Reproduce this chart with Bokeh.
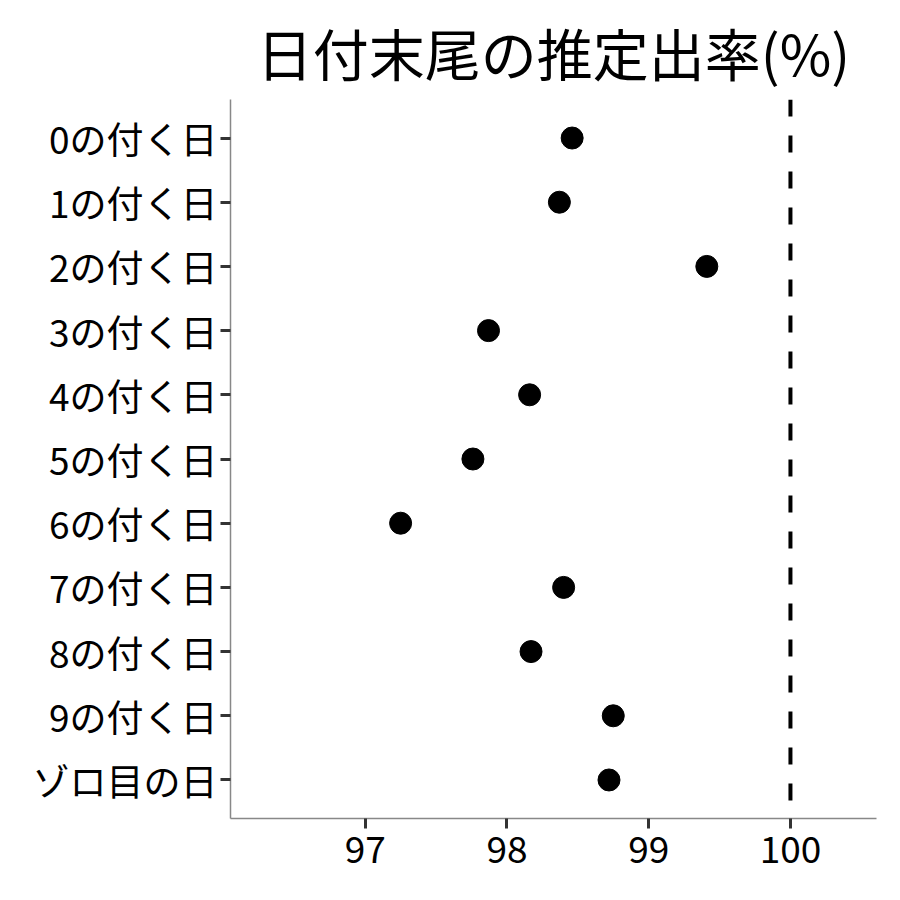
from bokeh.plotting import figure
from bokeh.models import FactorRange, Range1d, FixedTicker, Span
from bokeh.embed import file_html
from bokeh.resources import INLINE

categories = ["0の付く日", "1の付く日", "2の付く日", "3の付く日", "4の付く日",
              "5の付く日", "6の付く日", "7の付く日", "8の付く日", "9の付く日", "ゾロ目の日"]
rates = [98.46, 98.37, 99.41, 97.87, 98.16, 97.76, 97.25, 98.40, 98.17, 98.75, 98.72]
x_ticks = [97, 98, 99, 100]
ref_value = 100
title_text = "日付末尾の推定出率(%)"

FONT = "Noto Sans CJK JP"

p = figure(width=884, height=884, output_backend="svg", toolbar_location=None,
           y_range=FactorRange(factors=list(reversed(categories)), range_padding=0.1,
                               range_padding_units="absolute"),
           x_range=Range1d(96.05, 100.607),
           min_border_left=230, min_border_right=8, min_border_top=0, min_border_bottom=66)

p.title.text = title_text
p.title.text_font = FONT
p.title.text_font_size = "56px"
p.title.text_font_style = "normal"
p.title.text_color = "black"
p.title.align = "center"
p.title.offset = 0
p.title.standoff = 16

p.outline_line_color = None
p.grid.visible = False
p.background_fill_color = "white"

p.add_layout(Span(location=ref_value, dimension="height", line_color="black",
                  line_width=4, line_dash="17 19"))

p.scatter(x=rates, y=categories, size=22, fill_color="black", line_color="black")

for ax in (p.xaxis[0], p.yaxis[0]):
    ax.axis_line_color = "#888888"
    ax.axis_line_width = 1.5
    ax.major_tick_line_color = "#333333"
    ax.major_tick_line_width = 3
    ax.major_tick_out = 10
    ax.major_tick_in = 0
    ax.minor_tick_line_color = None
    ax.major_label_text_font = FONT
    ax.major_label_text_font_size = "37px"
    ax.major_label_text_color = "black"

p.xaxis[0].ticker = FixedTicker(ticks=x_ticks)
p.xaxis[0].major_label_standoff = 7
p.yaxis[0].major_label_standoff = 3

open("out.html", "w").write(file_html(p, INLINE))
